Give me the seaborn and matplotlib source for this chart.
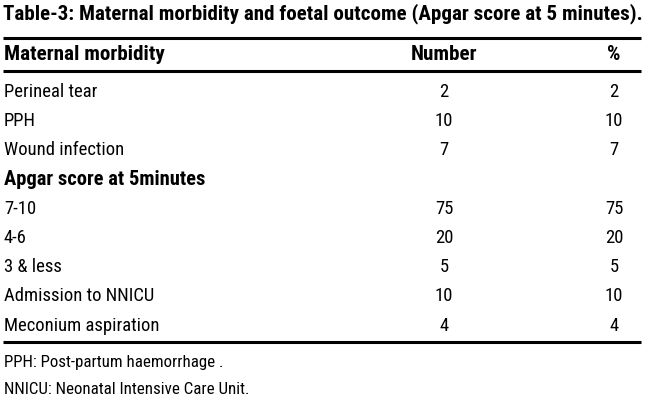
import matplotlib
matplotlib.use("Agg")
import matplotlib.pyplot as plt
import seaborn as sns

title = "Table-3: Maternal morbidity and foetal outcome (Apgar score at 5 minutes)."
columns = ["Maternal morbidity", "Number", "%"]
labels = [
    "Perineal tear",
    "PPH",
    "Wound infection",
    "Apgar score at 5minutes",
    "7-10",
    "4-6",
    "3 & less",
    "Admission to NNICU",
    "Meconium aspiration",
]
numbers = ["2", "10", "7", "", "75", "20", "5", "10", "4"]
percents = ["2", "10", "7", "", "75", "20", "5", "10", "4"]
bold_rows = [3]
footnotes = [
    "PPH: Post-partum haemorrhage .",
    "NNICU: Neonatal Intensive Care Unit.",
]

sns.set_theme(style="white")
plt.rcParams["font.family"] = ["Roboto Condensed", "Liberation Sans Narrow",
                               "Liberation Sans", "DejaVu Sans"]
plt.rcParams["text.color"] = "black"

fig = plt.figure(figsize=(6.5, 4.06), dpi=100)
ax = fig.add_axes([0, 0, 1, 1])
ax.set_xlim(0, 650)
ax.set_ylim(406, 0)
ax.axis("off")

col_x = [4, 444, 614]
fs = 13.4
hfs = 15.2

ax.text(3, 14, title, fontsize=15.1, fontweight="bold", va="center", ha="left")
ax.text(col_x[0], 55, columns[0], fontsize=hfs, fontweight="bold", va="center")
ax.text(col_x[1], 55, columns[1], fontsize=hfs, fontweight="bold", va="center", ha="center")
ax.text(col_x[2], 55, columns[2], fontsize=hfs, fontweight="bold", va="center", ha="center")

for y in (39, 72, 343):
    ax.plot([3, 641], [y, y], color="black", lw=2.2, solid_capstyle="butt")

row0, step = 92, 29.2
for i, (lab, num, pct) in enumerate(zip(labels, numbers, percents)):
    y = row0 + i * step
    if i in bold_rows:
        ax.text(col_x[0], y, lab, fontsize=14.8, fontweight="bold", va="center")
    else:
        ax.text(col_x[0], y, lab, fontsize=fs, va="center")
    ax.text(col_x[1], y, num, fontsize=fs, va="center", ha="center")
    ax.text(col_x[2], y, pct, fontsize=fs, va="center", ha="center")

for i, note in enumerate(footnotes):
    ax.text(4, 363 + i * 27, note, fontsize=12.2, va="center")

fig.savefig("out.png", dpi=100, facecolor="white")
